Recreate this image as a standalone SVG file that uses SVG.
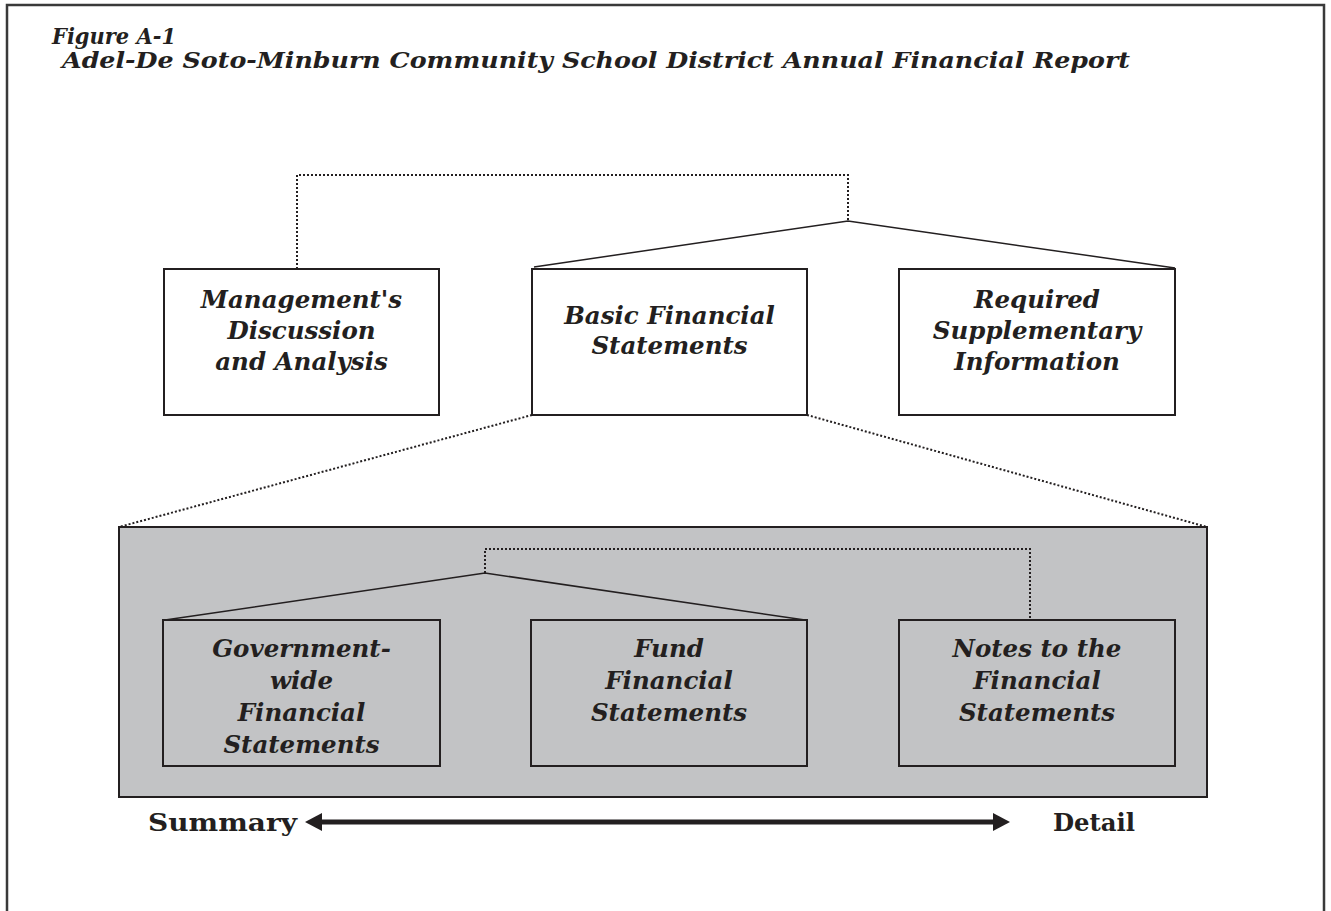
<svg xmlns="http://www.w3.org/2000/svg" width="1331" height="911" viewBox="0 0 1331 911">
<style>
.frame{fill:none;stroke:#3a3a3a;stroke-width:2.5}
.box{fill:#ffffff;stroke:#231f20;stroke-width:2}
.gbox{fill:#c2c3c5;stroke:#231f20;stroke-width:2}
.ibox{fill:#c2c3c5;stroke:#231f20;stroke-width:2}
.dot{fill:none;stroke:#231f20;stroke-width:2;stroke-dasharray:2 2}
.sol{fill:none;stroke:#231f20;stroke-width:1.5}
.t{font-family:"DejaVu Serif","Liberation Serif",serif;font-weight:bold;font-style:italic;fill:#231f20}
.bt{font-size:24.5px;text-anchor:middle}
.lab{font-family:"DejaVu Serif","Liberation Serif",serif;font-weight:bold;font-stretch:condensed;font-size:25px;fill:#231f20}
</style>
<rect width="1331" height="911" fill="#ffffff"/>
<path class="frame" d="M7,911 V5 H1324 V911"/>
<g id="title">
<text class="t" x="52" y="44" font-size="22" textLength="124" lengthAdjust="spacingAndGlyphs">Figure A-1</text>
<text class="t" x="62" y="68" font-size="22" textLength="1068" lengthAdjust="spacingAndGlyphs">Adel-De Soto-Minburn Community School District Annual Financial Report</text>
</g>
<g id="connectors">
<path class="dot" d="M297,269 V175 H848 V221"/>
<path class="sol" d="M534,267 L848,221 L1175,268"/>
<path class="dot" d="M532,415 L119,527"/>
<path class="dot" d="M807,415 L1207,527"/>
</g>
<g id="mdna">
<rect class="box" x="164" y="269" width="275" height="146"/>
<text class="t bt" x="301.5" y="308">Management's</text>
<text class="t bt" x="301.5" y="339">Discussion</text>
<text class="t bt" x="301.5" y="370">and Analysis</text>
</g>
<g id="basic">
<rect class="box" x="532" y="269" width="275" height="146"/>
<text class="t bt" x="669.5" y="324">Basic Financial</text>
<text class="t bt" x="669.5" y="354">Statements</text>
</g>
<g id="rsi">
<rect class="box" x="899" y="269" width="276" height="146"/>
<text class="t bt" x="1037" y="308">Required</text>
<text class="t bt" x="1037" y="339">Supplementary</text>
<text class="t bt" x="1037" y="370">Information</text>
</g>
<g id="basic-detail">
<rect class="gbox" x="119" y="527" width="1088" height="270"/>
</g>
<g id="inner-connectors">
<path class="dot" d="M485,573 V549 H1030 V620"/>
<path class="sol" d="M165,620 L485,573 L805,620"/>
</g>
<g id="govwide">
<rect class="ibox" x="163" y="620" width="277" height="146"/>
<text class="t bt" x="301.5" y="657">Government-</text>
<text class="t bt" x="301.5" y="689">wide</text>
<text class="t bt" x="301.5" y="721">Financial</text>
<text class="t bt" x="301.5" y="753">Statements</text>
</g>
<g id="fund">
<rect class="ibox" x="531" y="620" width="276" height="146"/>
<text class="t bt" x="669" y="657">Fund</text>
<text class="t bt" x="669" y="689">Financial</text>
<text class="t bt" x="669" y="721">Statements</text>
</g>
<g id="notes">
<rect class="ibox" x="899" y="620" width="276" height="146"/>
<text class="t bt" x="1037" y="657">Notes to the</text>
<text class="t bt" x="1037" y="689">Financial</text>
<text class="t bt" x="1037" y="721">Statements</text>
</g>
<g id="scale">
<text class="lab" x="148" y="831" textLength="149" lengthAdjust="spacingAndGlyphs">Summary</text>
<text class="lab" x="1053" y="831" textLength="82" lengthAdjust="spacingAndGlyphs">Detail</text>
<line x1="318" y1="822" x2="997" y2="822" stroke="#231f20" stroke-width="5"/>
<polygon points="305,822 322,813 322,831" fill="#231f20"/>
<polygon points="1010,822 993,813 993,831" fill="#231f20"/>
</g>
</svg>
